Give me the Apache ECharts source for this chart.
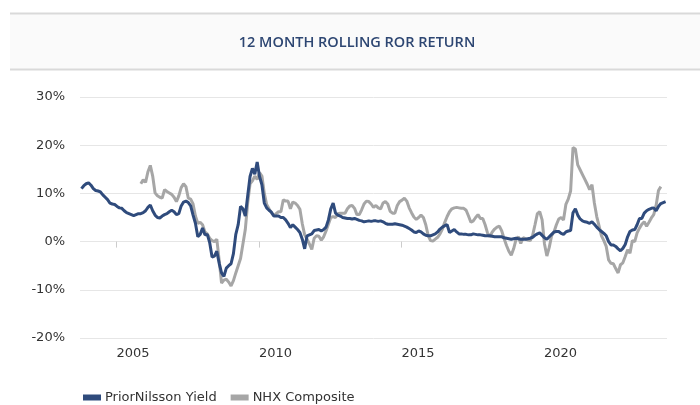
<!DOCTYPE html>
<html>
<head>
<meta charset="utf-8">
<script src="https://cdn.jsdelivr.net/npm/echarts@6/dist/echarts.min.js"></script>
<style>
  html, body { margin: 0; padding: 0; background: #ffffff; }
  #chart { width: 700px; height: 405px; }
</style>
</head>
<body>
<div id="chart"></div>
<script>
// Monthly series, first value = October 2003
const startYear = 2003;
const startMonth = 10; // October
const yearTicks = [2005, 2010, 2015, 2020];
const yTickLabels = ['-20%', '-10%', '0%', '10%', '20%', '30%'];
const seriesNames = ['PriorNilsson Yield', 'NHX Composite'];

// PriorNilsson Yield, monthly from Oct 2003
const priorNilssonYield = [
  11.0, 11.6, 12.0, 12.2, 11.7, 11.0, 10.6, 10.5, 10.3, 9.7,
  9.2, 8.7, 8.0, 7.8, 7.7, 7.3, 7.0, 6.9, 6.4, 6.0,
  5.8, 5.6, 5.4, 5.6, 5.8, 5.8, 6.0, 6.4, 7.1, 7.6,
  6.4, 5.5, 5.0, 4.9, 5.3, 5.6, 5.8, 6.2, 6.5, 6.2,
  5.6, 5.8, 7.4, 8.2, 8.4, 8.1, 7.4, 5.5, 3.8, 1.0,
  1.5, 2.8, 1.4, 1.5, -0.2, -3.2, -3.0, -2.0, -4.5, -6.5,
  -7.2, -5.5, -5.0, -4.6, -2.5, 1.5, 3.5, 7.3, 6.8, 5.3,
  9.5, 13.5, 15.2, 14.0, 16.5, 13.5, 11.8, 8.0, 7.0, 6.5,
  6.1, 5.3, 5.3, 5.3, 5.0, 5.0, 4.5, 3.8, 2.9, 3.5,
  3.0, 2.5, 1.9, 0.5, -1.5, 1.2, 1.4, 1.6, 2.3, 2.4,
  2.5, 2.2, 2.5, 3.0, 4.5, 6.8, 8.0, 5.9, 5.5, 5.3,
  5.0, 4.9, 4.8, 4.8, 4.7, 4.8, 4.6, 4.4, 4.3, 4.1,
  4.2, 4.3, 4.2, 4.3, 4.3, 4.2, 4.3, 4.1, 3.8, 3.6,
  3.6, 3.6, 3.7, 3.6, 3.5, 3.4, 3.2, 3.0, 2.7, 2.4,
  2.0, 1.9, 2.2, 2.0, 1.6, 1.3, 1.2, 1.2, 1.4, 1.6,
  2.0, 2.6, 3.0, 3.3, 3.5, 1.9, 2.2, 2.5, 2.0, 1.6,
  1.6, 1.5, 1.5, 1.4, 1.4, 1.6, 1.5, 1.4, 1.4, 1.3,
  1.2, 1.2, 1.2, 1.1, 1.0, 1.0, 1.0, 1.0, 0.8, 0.7,
  0.6, 0.5, 0.6, 0.7, 0.6, 0.5, 0.5, 0.5, 0.6, 0.7,
  0.9, 1.3, 1.6, 1.8, 1.3, 0.8, 0.5, 1.0, 1.5, 2.0,
  2.1, 2.1, 1.7, 1.5, 2.0, 2.2, 2.3, 6.0, 6.8, 5.5,
  4.7, 4.3, 4.1, 4.0, 3.8, 4.1, 3.6, 3.0, 2.5, 2.1,
  1.7, 1.2, 0.0, -0.7, -0.7, -1.0, -1.5, -1.9, -1.4, -0.6,
  1.0, 2.1, 2.4, 2.5, 3.5, 4.8, 4.8, 5.9, 6.4, 6.7,
  6.9, 7.0, 6.4, 7.3, 7.9, 8.1, 8.3
];

// NHX Composite, monthly from Nov 2005
const nhxStartOffset = 25; // months after Oct 2003
const nhxComposite = [
  12.0, 12.8, 12.3, 14.5, 15.8, 13.6, 10.1, 9.5, 9.2, 9.0,
  10.8, 10.4, 10.1, 9.8, 9.2, 8.3, 9.5, 11.2, 12.0, 11.4,
  9.0, 8.8, 7.8, 5.3, 3.8, 4.0, 3.5, 2.0, 1.6, 0.7,
  0.2, 0.0, 0.5, -3.9, -8.6, -8.0, -7.8, -8.4, -9.2, -8.1,
  -6.5, -5.0, -3.5, -0.5, 2.5, 8.0, 12.0, 12.6, 13.6, 12.9,
  14.3, 13.6, 10.0, 7.7, 6.8, 6.0, 5.4, 5.8, 6.2, 6.2,
  8.7, 8.4, 8.4, 6.8, 8.2, 8.0, 7.5, 6.7, 3.7, 1.4,
  0.5, -0.5, -1.6, 0.7, 1.2, 1.1, 0.3, 1.0, 2.2, 3.6,
  5.0, 5.2, 5.0, 5.8, 5.9, 5.9, 5.9, 6.8, 7.4, 7.5,
  6.9, 5.6, 5.6, 6.6, 7.8, 8.4, 8.3, 7.8, 7.1, 7.5,
  7.0, 6.8, 8.0, 8.3, 7.8, 6.3, 5.9, 5.9, 7.5, 8.3,
  8.6, 9.0, 8.4, 7.0, 6.0, 5.1, 4.6, 5.0, 5.5, 5.0,
  3.5, 1.3, 0.2, 0.1, 0.5, 0.9, 1.6, 2.6, 4.0, 5.2,
  6.2, 6.8, 7.0, 7.1, 7.0, 6.9, 6.9, 6.5, 5.3, 4.0,
  4.3, 5.0, 5.6, 4.8, 4.8, 3.5, 1.8, 1.0, 2.0, 2.6,
  3.0, 3.2, 2.2, 0.6, -0.8, -2.0, -2.8, -1.5, 0.4, 1.0,
  -0.4, 0.8, 0.6, 0.3, 0.2, 1.3, 3.5, 5.8, 6.2, 4.5,
  -0.5, -3.0, -1.2, 1.2, 2.0, 3.5, 4.7, 5.0, 4.5, 7.7,
  8.8, 10.5, 19.5, 19.2, 15.9, 14.9, 13.9, 12.9, 11.9, 10.8,
  11.8, 8.0, 5.2, 3.2, 1.2, 0.2, -1.0, -3.8, -4.5, -4.6,
  -5.6, -6.5, -4.8, -4.4, -3.1, -1.7, -2.4, 0.2, 0.0, 1.8,
  2.8, 3.6, 4.1, 3.2, 4.0, 4.9, 5.6, 7.5, 10.6, 11.4
];

function monthToYear(offset) {
  return startYear + (startMonth - 1) / 12 + offset / 12 + 1 / 48;
}
const blueData = priorNilssonYield.map((v, i) => [monthToYear(i), v]);
const greyData = nhxComposite.map((v, i) => [monthToYear(i + nhxStartOffset), v]);

const chart = echarts.init(document.getElementById('chart'));
const fontFam = 'DejaVu Sans, Verdana, sans-serif';

chart.setOption({
  animation: false,
  backgroundColor: '#ffffff',
  graphic: [
    { type: 'rect', shape: { x: 10, y: 13, width: 690, height: 57 },
      style: { fill: '#fafafa' }, silent: true, z: -1 },
    { type: 'rect', shape: { x: 10, y: 12.5, width: 690, height: 2 },
      style: { fill: '#d9d9d9' }, silent: true },
    { type: 'rect', shape: { x: 10, y: 68.5, width: 690, height: 2 },
      style: { fill: '#d9d9d9' }, silent: true }
  ],
  title: {
    text: '12 MONTH ROLLING ROR RETURN',
    left: 352, top: 30, textAlign: 'center',
    textStyle: { fontFamily: 'Open Sans, sans-serif', fontSize: 14.5, fontWeight: 600, color: '#2d4672' }
  },
  legend: {
    left: 78, top: 386,
    icon: 'rect', itemWidth: 18, itemHeight: 6, itemGap: 14,
    textStyle: { fontFamily: fontFam, fontSize: 13, color: '#333333', padding: [0, 0, 0, -1] },
    data: seriesNames
  },
  grid: { left: 80, right: 33, top: 97, bottom: 67, containLabel: false },
  xAxis: {
    type: 'value',
    min: 2003.72, max: 2024.32,
    axisLine: { show: false },
    splitLine: { show: false },
    axisTick: { show: true, length: 6, lineStyle: { color: '#cccccc' }, customValues: yearTicks },
    axisLabel: {
      customValues: yearTicks, align: 'left', margin: 9,
      fontFamily: fontFam, fontSize: 13, color: '#333333',
      formatter: v => String(Math.round(v))
    }
  },
  yAxis: {
    type: 'value',
    min: -20, max: 30, interval: 10,
    axisLine: { show: false },
    axisTick: { show: false },
    axisLabel: {
      margin: 15, fontFamily: fontFam, fontSize: 13, color: '#333333',
      formatter: v => yTickLabels[Math.round((v + 20) / 10)]
    },
    splitLine: { lineStyle: { color: '#e6e6e6', width: 1 } }
  },
  series: [
    {
      name: seriesNames[0], type: 'line', data: blueData,
      showSymbol: false, symbol: 'none', z: 3,
      lineStyle: { color: '#2f4b7c', width: 3 },
      itemStyle: { color: '#2f4b7c' }
    },
    {
      name: seriesNames[1], type: 'line', data: greyData,
      showSymbol: false, symbol: 'none', z: 2,
      lineStyle: { color: '#a6a6a6', width: 3 },
      itemStyle: { color: '#a6a6a6' }
    }
  ]
});
</script>
</body>
</html>
